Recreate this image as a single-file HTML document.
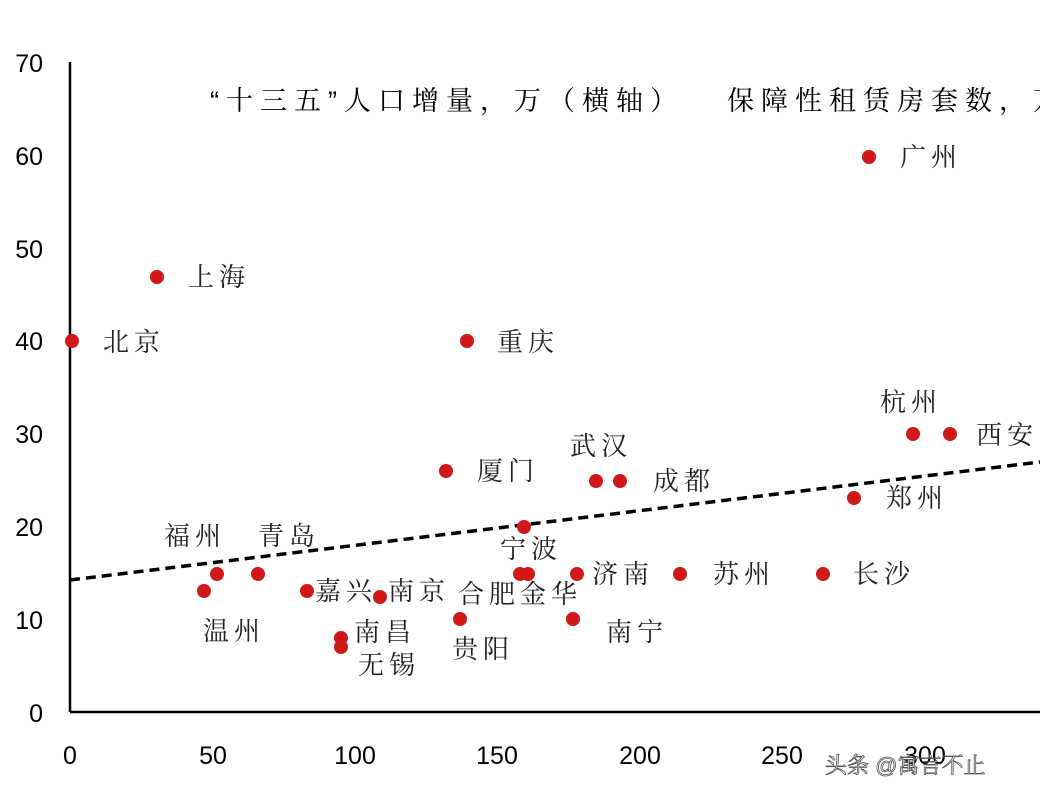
<!DOCTYPE html>
<html><head><meta charset="utf-8"><style>
body{margin:0;background:#fff;}
svg text{font-family:"Liberation Sans","Noto Serif CJK SC","Noto Sans CJK SC",sans-serif;}
</style></head><body>
<svg width="1040" height="800" xmlns="http://www.w3.org/2000/svg">
<rect width="1040" height="800" fill="#fff"/>
<line x1="70" y1="62" x2="70" y2="712" stroke="#000" stroke-width="2.5"/>
<line x1="70" y1="712" x2="1040" y2="712" stroke="#000" stroke-width="2.5"/>
<g font-size="25" fill="#000" text-anchor="end">
<text x="43" y="72">70</text><text x="43" y="165">60</text><text x="43" y="258">50</text>
<text x="43" y="350">40</text><text x="43" y="443">30</text><text x="43" y="536">20</text>
<text x="43" y="629">10</text><text x="43" y="722">0</text>
</g>
<g font-size="25" fill="#000" text-anchor="middle">
<text x="70" y="764">0</text><text x="213" y="764">50</text><text x="355" y="764">100</text>
<text x="497" y="764">150</text><text x="640" y="764">200</text><text x="782" y="764">250</text><text x="925" y="764">300</text>
</g>
<g font-size="27" fill="#000" letter-spacing="7">
<text x="210" y="110">“十三五”人口增量，万（横轴）</text>
<text x="727" y="110">保障性租赁房套数，万</text>
</g>
<line x1="70" y1="580" x2="1040" y2="462" stroke="#000" stroke-width="3.5" stroke-dasharray="10,6"/>
<g fill="#d01818">
<circle cx="72" cy="341" r="7"/><circle cx="157" cy="277" r="7"/><circle cx="869" cy="157" r="7"/>
<circle cx="467" cy="341" r="7"/><circle cx="446" cy="471" r="7"/><circle cx="596" cy="481" r="7"/>
<circle cx="620" cy="481" r="7"/><circle cx="913" cy="434" r="7"/><circle cx="950" cy="434" r="7"/>
<circle cx="854" cy="498" r="7"/><circle cx="524" cy="527" r="7"/><circle cx="520" cy="574" r="7"/>
<circle cx="528" cy="574" r="7"/><circle cx="577" cy="574" r="7"/><circle cx="680" cy="574" r="7"/>
<circle cx="823" cy="574" r="7"/><circle cx="217" cy="574" r="7"/><circle cx="258" cy="574" r="7"/>
<circle cx="204" cy="591" r="7"/><circle cx="307" cy="591" r="7"/><circle cx="380" cy="597" r="7"/>
<circle cx="460" cy="619" r="7"/><circle cx="573" cy="619" r="7"/><circle cx="341" cy="638" r="7"/>
<circle cx="341" cy="647" r="7"/>
</g>
<g font-size="26" fill="#222" letter-spacing="5">
<text x="103" y="351">北京</text><text x="188" y="286">上海</text><text x="900" y="166">广州</text>
<text x="497" y="351">重庆</text><text x="477" y="480">厦门</text><text x="570" y="455">武汉</text>
<text x="653" y="490">成都</text><text x="880" y="411">杭州</text><text x="976" y="444">西安</text>
<text x="886" y="507">郑州</text><text x="500" y="558">宁波</text><text x="592" y="583">济南</text>
<text x="713" y="583">苏州</text><text x="853" y="583">长沙</text><text x="164" y="545">福州</text>
<text x="258" y="545">青岛</text><text x="203" y="640">温州</text><text x="315" y="600">嘉兴</text>
<text x="388" y="600">南京</text><text x="458" y="603">合肥金华</text>
<text x="606" y="641">南宁</text><text x="452" y="658">贵阳</text><text x="354" y="641">南昌</text>
<text x="358" y="674">无锡</text>
</g>
<text x="825" y="773" font-size="22" fill="#fff" stroke="#555" stroke-width="0.8">头条 @寓言不止</text>
</svg>
</body></html>
